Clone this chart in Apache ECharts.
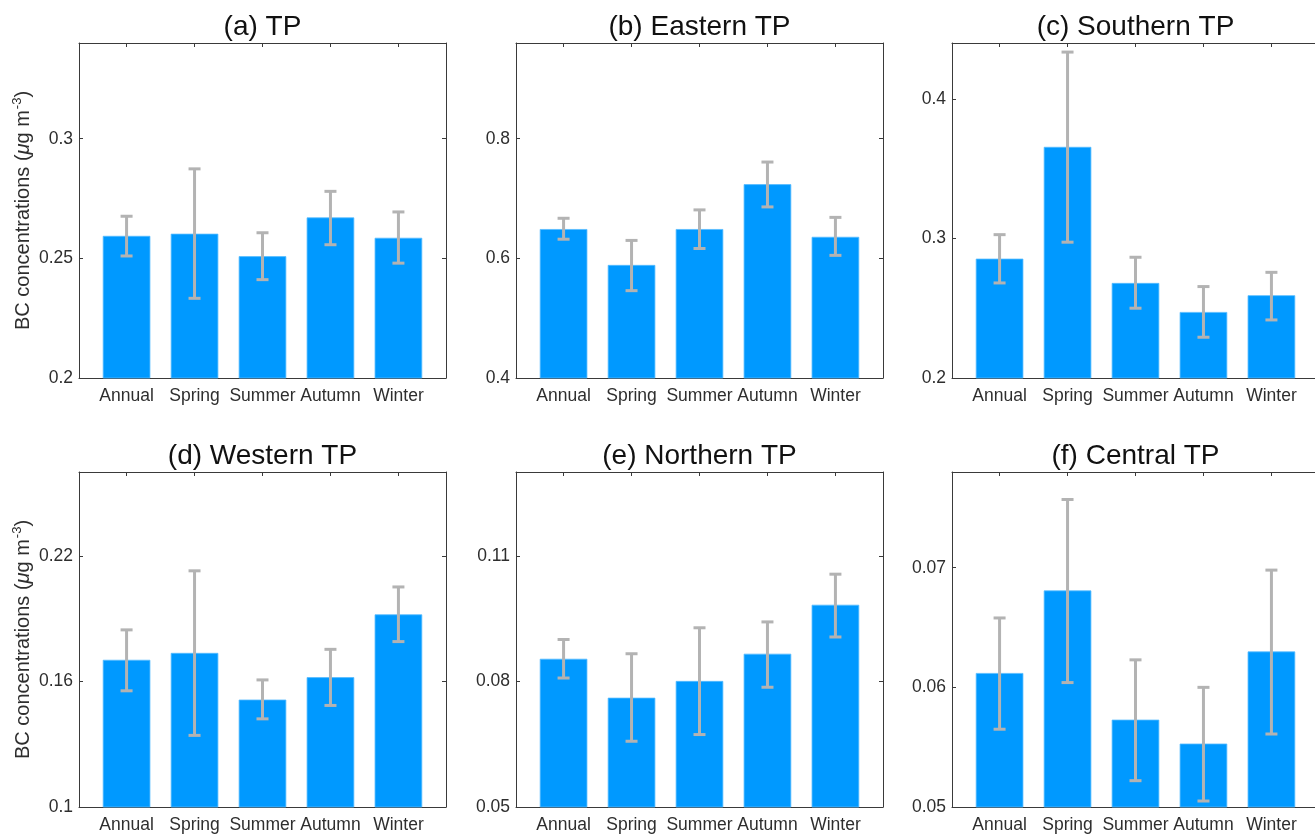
<!DOCTYPE html>
<html><head><meta charset="utf-8">
<script src="https://cdn.jsdelivr.net/npm/echarts@6/dist/echarts.min.js"></script>
<style>html,body{margin:0;padding:0;background:#fff}#c{width:1315px;height:835px}</style>
</head><body><div id="c"></div>
<script>
const categories = ['Annual', 'Spring', 'Summer', 'Autumn', 'Winter'];
const panelTitles = ['(a) TP', '(b) Eastern TP', '(c) Southern TP', '(d) Western TP', '(e) Northern TP', '(f) Central TP'];

const tpMean = [0.2594, 0.2603, 0.2509, 0.2671, 0.2586];
const tpLow  = [0.2510, 0.2333, 0.2411, 0.2557, 0.2480];
const tpHigh = [0.2676, 0.2874, 0.2607, 0.2780, 0.2694];

const eastMean = [0.649, 0.589, 0.649, 0.724, 0.636];
const eastLow  = [0.632, 0.546, 0.6165, 0.686, 0.605];
const eastHigh = [0.667, 0.630, 0.681, 0.761, 0.6685];

const southMean = [0.2855, 0.3656, 0.2681, 0.2473, 0.2593];
const southLow  = [0.2681, 0.2973, 0.2500, 0.2292, 0.2416];
const southHigh = [0.3027, 0.4335, 0.2865, 0.2655, 0.2757];

const westMean = [0.1703, 0.1736, 0.1513, 0.1620, 0.1920];
const westLow  = [0.1555, 0.1342, 0.1421, 0.1485, 0.1790];
const westHigh = [0.1846, 0.2128, 0.1607, 0.1753, 0.2051];

const northMean = [0.0854, 0.0761, 0.0801, 0.0866, 0.0983];
const northLow  = [0.0808, 0.0657, 0.0673, 0.0786, 0.0906];
const northHigh = [0.0900, 0.0866, 0.0928, 0.0942, 0.1056];

const centralMean = [0.0612, 0.0681, 0.0573, 0.0553, 0.0630];
const centralLow  = [0.0565, 0.0604, 0.0522, 0.0505, 0.0561];
const centralHigh = [0.0658, 0.0757, 0.0623, 0.0600, 0.0698];

const yMin  = [0.2, 0.4, 0.2, 0.1, 0.05, 0.05];
const yMax  = [0.34, 0.96, 0.44, 0.26, 0.13, 0.078];
const yStep = [0.05, 0.2, 0.1, 0.06, 0.03, 0.01];

const means = [tpMean, eastMean, southMean, westMean, northMean, centralMean];
const lows  = [tpLow, eastLow, southLow, westLow, northLow, centralLow];
const highs = [tpHigh, eastHigh, southHigh, westHigh, northHigh, centralHigh];

const FONT = "'Liberation Sans', Arial, Helvetica, sans-serif";
const AXC = '#3a3a3a';
const TXT = '#2e2e2e';
const lefts = [79, 516, 952];
const tops = [43, 472];
const W = 367, H = 335;
const XMIN = 0.3, XMAX = 5.7;
const barW = W / (XMAX - XMIN) * 0.7;

const grids = [], xAxes = [], yAxes = [], series = [], titles = [];
const fmtNum = v => String(parseFloat(v.toFixed(6)));

for (let i = 0; i < 6; i++) {
  const col = i % 3, row = Math.floor(i / 3);
  grids.push({ left: lefts[col], top: tops[row], width: W, height: H, show: false, containLabel: false, outerBoundsMode: 'none' });
  titles.push({
    text: panelTitles[i], left: lefts[col] + W / 2 - 5, top: tops[row] - 35, textAlign: 'center',
    textStyle: { fontFamily: FONT, fontSize: 28, fontWeight: 'normal', color: '#111' }
  });
  xAxes.push({
    type: 'value', gridIndex: i, min: XMIN, max: XMAX, position: 'bottom',
    splitLine: { show: false },
    axisLine: { show: true, lineStyle: { color: AXC, width: 1 } },
    axisTick: { show: true, inside: true, length: 4, lineStyle: { color: AXC } },
    axisLabel: {
      show: true, margin: 9, fontFamily: FONT, fontSize: 17.5, color: TXT,
      showMinLabel: false, showMaxLabel: false,
      formatter: v => Math.abs(v - Math.round(v)) < 1e-6 && v >= 1 && v <= 5 ? categories[Math.round(v) - 1] : ''
    }
  });
  xAxes.push({
    type: 'value', gridIndex: i, min: XMIN, max: XMAX, position: 'top',
    splitLine: { show: false },
    axisLine: { show: true, lineStyle: { color: AXC, width: 1 } },
    axisTick: { show: true, inside: true, length: 4, lineStyle: { color: AXC } },
    axisLabel: { show: false }
  });
  const yName = col === 0 ? 'BC concentrations ({mu|μ}g m{sup|-3})' : '';
  yAxes.push({
    type: 'value', gridIndex: i, min: yMin[i], max: yMax[i], interval: yStep[i], position: 'left',
    splitLine: { show: false },
    axisLine: { show: true, lineStyle: { color: AXC, width: 1 } },
    axisTick: { show: true, inside: true, length: 4, lineStyle: { color: AXC } },
    axisLabel: { margin: 6, fontFamily: FONT, fontSize: 17.5, color: TXT, showMaxLabel: false, formatter: fmtNum },
    name: yName, nameLocation: 'middle', nameGap: 42, nameRotate: 90,
    nameTextStyle: {
      fontFamily: FONT, fontSize: 20, color: TXT, lineHeight: 24,
      rich: {
        mu: { fontFamily: FONT, fontSize: 20, fontStyle: 'italic', color: TXT, lineHeight: 24 },
        sup: { fontFamily: FONT, fontSize: 13, color: TXT, verticalAlign: 'top', lineHeight: 24, padding: [0, 0, 9, 1] }
      }
    }
  });
  yAxes.push({
    type: 'value', gridIndex: i, min: yMin[i], max: yMax[i], interval: yStep[i], position: 'right',
    splitLine: { show: false },
    axisLine: { show: true, lineStyle: { color: AXC, width: 1 } },
    axisTick: { show: true, inside: true, length: 4, lineStyle: { color: AXC } },
    axisLabel: { show: false }
  });
  series.push({
    type: 'bar', xAxisIndex: 2 * i, yAxisIndex: 2 * i, barWidth: barW,
    itemStyle: { color: '#0099ff', borderColor: '#55bbff', borderWidth: 0.8 },
    data: means[i].map((v, k) => [k + 1, v]),
    silent: true, animation: false
  });
  series.push({
    type: 'custom', xAxisIndex: 2 * i, yAxisIndex: 2 * i,
    encode: { x: 0, y: [1, 2] },
    data: lows[i].map((v, k) => [k + 1, v, highs[i][k]]),
    renderItem: (params, api) => {
      const x = api.value(0);
      const pLo = api.coord([x, api.value(1)]);
      const pHi = api.coord([x, api.value(2)]);
      const cap = 6;
      const st = { stroke: '#b3b3b3', lineWidth: 3 };
      return {
        type: 'group', children: [
          { type: 'line', shape: { x1: pLo[0], y1: pLo[1], x2: pHi[0], y2: pHi[1] }, style: st },
          { type: 'line', shape: { x1: pHi[0] - cap, y1: pHi[1], x2: pHi[0] + cap, y2: pHi[1] }, style: st },
          { type: 'line', shape: { x1: pLo[0] - cap, y1: pLo[1], x2: pLo[0] + cap, y2: pLo[1] }, style: st }
        ]
      };
    },
    z: 5, silent: true, animation: false
  });
}

const chart = echarts.init(document.getElementById('c'), null, { renderer: 'canvas' });
chart.setOption({
  backgroundColor: '#fff',
  animation: false,
  title: titles,
  grid: grids,
  xAxis: xAxes,
  yAxis: yAxes,
  series: series
});
</script>
</body></html>
